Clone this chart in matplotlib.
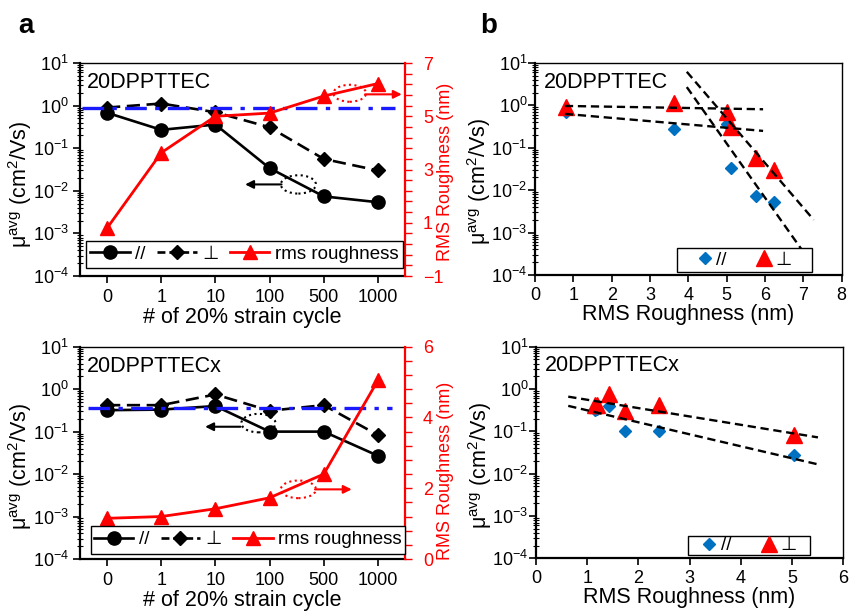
import numpy as np
import matplotlib
matplotlib.use("Agg")
import matplotlib.pyplot as plt
from matplotlib.patches import Ellipse, Rectangle
from matplotlib.lines import Line2D
from matplotlib.ticker import LogLocator, MultipleLocator, NullFormatter

plt.rcParams['font.family'] = ['Liberation Sans', 'DejaVu Sans']
plt.rcParams['mathtext.fontset'] = 'custom'
plt.rcParams['mathtext.rm'] = 'Liberation Sans'
plt.rcParams['mathtext.it'] = 'Liberation Sans:italic'
plt.rcParams['mathtext.bf'] = 'Liberation Sans:bold'

# data
cycles = ['0', '1', '10', '100', '500', '1000']

mu_par_tec = [0.68, 0.27, 0.36, 0.034, 0.0074, 0.0054]
mu_perp_tec = [0.9, 1.12, 0.7, 0.31, 0.056, 0.03]
rms_tec = [0.8, 3.63, 5.0, 5.12, 5.76, 6.23]
ref_tec = 0.9

mu_par_tecx = [0.32, 0.33, 0.4, 0.1, 0.1, 0.027]
mu_perp_tecx = [0.42, 0.42, 0.75, 0.31, 0.42, 0.083]
rms_tecx = [1.15, 1.2, 1.42, 1.73, 2.4, 5.05]
ref_tecx = 0.36

# dashed guide lines in panel b (end points)
fit_tec_x = [[0.78, 5.95], [0.78, 5.95], [3.96, 7.27], [3.96, 7.0]]
fit_tec_y = [[0.97, 0.81], [0.63, 0.25], [6.2, 0.002], [2.7, 3.5e-4]]
fit_tecx_x = [[0.63, 5.51], [0.63, 5.51]]
fit_tecx_y = [[0.66, 0.072], [0.40, 0.0166]]

ylab = r'μ$^{\mathrm{avg}}$ (cm$^{2}$/Vs)'
RED = '#ff0000'
BLUE_LINE = '#1a1aff'
BLUE_PT = '#0070c0'

fig = plt.figure(figsize=(8.5, 6.12), dpi=100)


def log_axis(ax, ypad):
    ax.set_yscale('log')
    ax.set_ylim(1e-4, 10)
    ax.yaxis.set_major_locator(LogLocator(base=10, numticks=10))
    ax.yaxis.set_minor_locator(LogLocator(base=10, subs=np.arange(2, 10), numticks=20))
    ax.yaxis.set_minor_formatter(NullFormatter())
    ax.tick_params(axis='both', which='major', direction='out', length=5, width=1.2, labelsize=13)
    ax.tick_params(axis='y', which='minor', direction='inout', length=4, width=0.8)
    ax.tick_params(axis='y', pad=ypad)
    for s in ['left', 'bottom']:
        ax.spines[s].set_linewidth(1.6)
    for s in ['top', 'right']:
        ax.spines[s].set_linewidth(1.0)


def legend_box(ax, rect, handles, labels, ncol, **kw):
    x0, y0, x1, y1 = rect
    ax.add_patch(Rectangle((x0, y0), x1 - x0, y1 - y0, transform=ax.transAxes,
                           fc='white', ec='black', lw=1.0, zorder=6, clip_on=False))
    leg = ax.legend(handles, labels, loc='center', bbox_to_anchor=((x0 + x1) / 2, (y0 + y1) / 2),
                    frameon=False, ncol=ncol, fontsize=13.5, borderpad=0, borderaxespad=0, **kw)
    leg.set_zorder(7)


def cycle_panel(rect, name, mu_par, mu_perp, rms, ref, rlim, ref_span,
                leg_rect, ylab_y, rlab_y, blk, red):
    ax = fig.add_axes(rect)
    x = np.arange(len(cycles))
    log_axis(ax, 3)
    ax.set_xlim(-0.5, 5.5)
    ax.set_xticks(x, cycles)
    ax.tick_params(axis='x', pad=4.5)
    ax.axhline(ref, xmin=ref_span[0], xmax=ref_span[1], color=BLUE_LINE, lw=2.4,
               dashes=(6.5, 2.5, 1.3, 2.5), zorder=3)
    ax.plot(x, mu_perp, color='black', lw=1.9, dashes=(5, 2.5), marker='D', ms=7.5, zorder=2)
    ax.plot(x, mu_par, color='black', lw=1.9, marker='o', ms=9.5, zorder=2)
    ax.spines['right'].set_visible(False)
    ax.text(0.022, 0.883, name, transform=ax.transAxes, fontsize=15.5, va='baseline')
    ax.set_ylabel(ylab, fontsize=15.5)
    ax.yaxis.set_label_coords(-0.1415, ylab_y)
    ax.set_xlabel('# of 20% strain cycle', fontsize=15.5)
    ax.xaxis.set_label_coords(0.5, -0.146)

    ax2 = ax.twinx()
    ax2.plot(x, rms, color=RED, lw=2.0, marker='^', ms=9.5, zorder=3)
    ax2.set_ylim(*rlim)
    ax2.yaxis.set_major_locator(MultipleLocator(2, offset=rlim[0]))
    ax2.yaxis.set_minor_locator(MultipleLocator(0.4, offset=rlim[0]))
    ax2.tick_params(axis='y', which='both', colors=RED, labelcolor=RED, direction='out',
                    length=5, width=1.0, labelsize=13, pad=8)
    ax2.spines['right'].set_color(RED)
    ax2.spines['right'].set_linewidth(1.6)
    for s in ['left', 'top', 'bottom']:
        ax2.spines[s].set_visible(False)
    ax2.set_ylabel('RMS Roughness (nm)', color=RED, fontsize=13)
    ax2.yaxis.set_label_coords(1.098, rlab_y)

    # dotted ellipses with arrows pointing to the matching axis
    (bx, by, bw, bh, bax0, bax1, bay) = blk
    ax2.add_patch(Ellipse((bx, by), bw, bh, transform=ax2.transAxes, fill=False,
                          ec='black', ls=':', lw=1.5, zorder=5))
    ax2.annotate('', xy=(bax1, bay), xytext=(bax0, bay), xycoords='axes fraction',
                 arrowprops=dict(arrowstyle='-|>', color='black', lw=1.5,
                                 mutation_scale=12, shrinkA=0, shrinkB=0))
    (rx, ry, rw, rh, rax0, rax1, ray) = red
    ax2.add_patch(Ellipse((rx, ry), rw, rh, transform=ax2.transAxes, fill=False,
                          ec=RED, ls=':', lw=1.5, zorder=5))
    ax2.annotate('', xy=(rax1, ray), xytext=(rax0, ray), xycoords='axes fraction',
                 arrowprops=dict(arrowstyle='-|>', color=RED, lw=1.5,
                                 mutation_scale=12, shrinkA=0, shrinkB=0))

    handles = [Line2D([], [], color='black', lw=1.9, marker='o', ms=9.5),
               Line2D([], [], color='black', lw=1.9, dashes=(3, 1.5), marker='D', ms=7.5),
               Line2D([], [], color=RED, lw=2.0, marker='^', ms=9.5)]
    legend_box(ax2, leg_rect, handles, ['//', '⊥', 'rms roughness'], 3,
               handlelength=2.1, handletextpad=0.3, columnspacing=0.6)
    return ax, ax2


def rough_panel(rect, name, rms, mu_par, mu_perp, fx, fy, xmax, leg_rect, xlab_y):
    ax = fig.add_axes(rect)
    log_axis(ax, 0.5)
    ax.set_xlim(0, xmax)
    ax.xaxis.set_major_locator(MultipleLocator(1))
    ax.plot(rms, mu_par, ls='none', marker='D', ms=6.3, color=BLUE_PT, zorder=2)
    ax.plot(rms, mu_perp, ls='none', marker='^', ms=11, color=RED, zorder=2)
    for xs, ys in zip(fx, fy):
        ax.plot(xs, ys, color='black', lw=1.7, dashes=(3.5, 2), zorder=3)
    ax.text(0.03, 0.884, name, transform=ax.transAxes, fontsize=15.5, va='baseline')
    ax.set_ylabel(ylab, fontsize=15.5)
    ax.yaxis.set_label_coords(-0.137, 0.44)
    ax.set_xlabel('RMS Roughness (nm)', fontsize=15.5)
    ax.xaxis.set_label_coords(0.5, xlab_y)
    handles = [Line2D([], [], ls='none', marker='D', ms=6.3, color=BLUE_PT),
               Line2D([], [], ls='none', marker='^', ms=11, color=RED)]
    legend_box(ax, leg_rect, handles, ['//', '⊥'], 2,
               handlelength=0.8, handletextpad=0.2, columnspacing=1.6)
    return ax


cycle_panel([0.0941, 0.549, 0.3824, 0.348], '20DPPTTEC', mu_par_tec, mu_perp_tec, rms_tec,
            ref_tec, (-1, 7), (0.005, 0.97), (0.018, 0.038, 0.994, 0.166),
            0.43, 0.488,
            (0.672, 0.43, 0.108, 0.086, 0.62, 0.508, 0.43),
            (0.83, 0.858, 0.10, 0.08, 0.877, 0.99, 0.853))
cycle_panel([0.0941, 0.0866, 0.3824, 0.3469], '20DPPTTECx', mu_par_tecx, mu_perp_tecx, rms_tecx,
            ref_tecx, (0, 6), (0.025, 0.96), (0.034, 0.024, 1.0, 0.157),
            0.435, 0.415,
            (0.549, 0.64, 0.105, 0.087, 0.494, 0.385, 0.623),
            (0.672, 0.328, 0.108, 0.083, 0.723, 0.836, 0.328))

rough_panel([0.6294, 0.5507, 0.3608, 0.3464], '20DPPTTEC', rms_tec, mu_par_tec, mu_perp_tec,
            fit_tec_x, fit_tec_y, 8, (0.463, 0.014, 0.903, 0.127), -0.137)
rough_panel([0.6306, 0.0877, 0.3612, 0.3458], '20DPPTTECx', rms_tecx, mu_par_tecx, mu_perp_tecx,
            fit_tecx_x, fit_tecx_y, 6, (0.495, 0.016, 0.893, 0.105), -0.136)

fig.text(18 / 850, 1 - 33 / 612, 'a', fontsize=20, fontweight='bold', va='baseline')
fig.text(480 / 850, 1 - 33 / 612, 'b', fontsize=20, fontweight='bold', va='baseline')

fig.savefig('out.png', dpi=100)
